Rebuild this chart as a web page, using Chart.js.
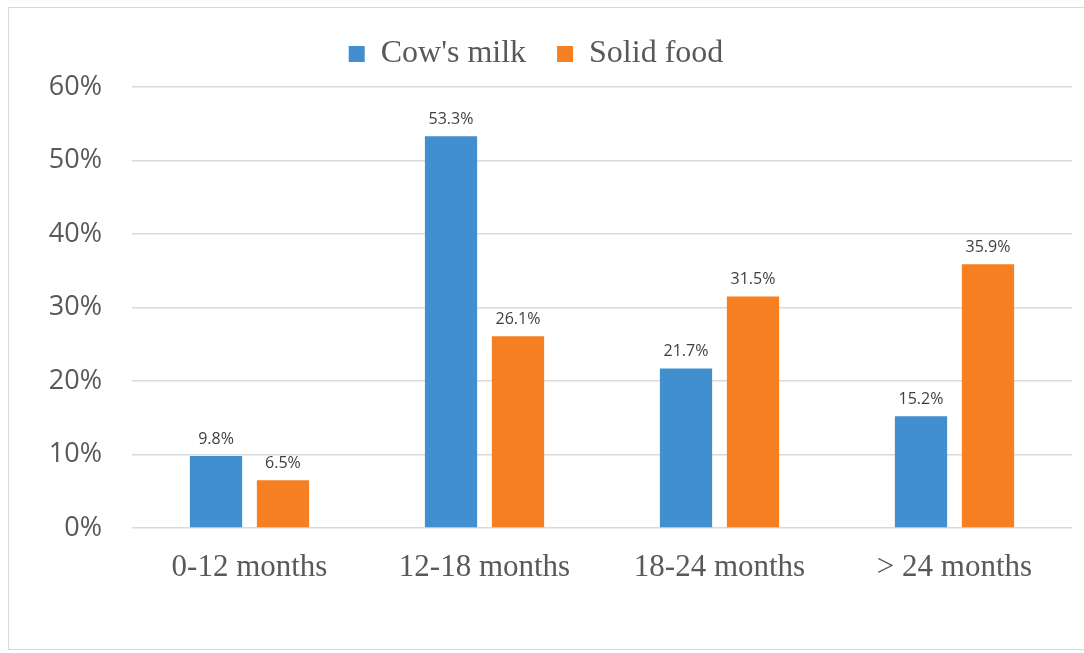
<!DOCTYPE html>
<html>
<head>
<meta charset="utf-8">
<script src="https://cdn.jsdelivr.net/npm/chart.js@4"></script>
<style>
  html, body { margin: 0; padding: 0; background: #fff; overflow: hidden; }
  #wrap { position: relative; width: 1084px; height: 653px; }
  #frame { position: absolute; left: 8px; top: 7px; width: 1100px; height: 643px; border: 1px solid #d9d9d9; box-sizing: border-box; }
  canvas { position: absolute; left: 0; top: 0; }
</style>
</head>
<body>
<div id="wrap">
  <div id="frame"></div>
  <canvas id="chart" width="1084" height="653"></canvas>
</div>
<script>
var categories = ['0-12 months', '12-18 months', '18-24 months', '> 24 months'];
var cowsMilk = [9.8, 53.3, 21.7, 15.2];
var solidFood = [6.5, 26.1, 31.5, 35.9];
var yTicks = [0, 10, 20, 30, 40, 50, 60];

var textColor = '#595959';

// draws the value above each bar
var barLabels = {
    id: 'barLabels',
    afterDatasetsDraw: function (chart) {
        var ctx = chart.ctx;
        ctx.save();
        ctx.font = '16px "Open Sans"';
        ctx.fillStyle = '#404040';
        ctx.textAlign = 'center';
        ctx.textBaseline = 'bottom';
        chart.data.datasets.forEach(function (ds, i) {
            chart.getDatasetMeta(i).data.forEach(function (bar, j) {
                ctx.fillText(ds.data[j].toFixed(1) + '%', bar.x, bar.y - 9);
            });
        });
        ctx.restore();
    }
};

// fixed legend height so the plot area starts where it should
var legendHeight = {
    id: 'legendHeight',
    beforeInit: function (chart) {
        var fit = chart.legend.fit;
        chart.legend.fit = function () {
            fit.call(this);
            this.height = 80;
        };
    }
};

var ctx = document.getElementById('chart');
var chart = new Chart(ctx, {
    type: 'bar',
    data: {
        labels: categories,
        datasets: [{
            label: "Cow's milk",
            data: cowsMilk,
            backgroundColor: '#418fcf'
        }, {
            label: 'Solid food',
            data: solidFood,
            backgroundColor: '#f57f21'
        }]
    },
    options: {
        responsive: false,
        animation: false,
        categoryPercentage: 0.57,
        barPercentage: 0.78,
        layout: { padding: { left: 0, right: 12, top: 7, bottom: 0 } },
        plugins: {
            legend: {
                position: 'top',
                labels: {
                    boxWidth: 16,
                    boxHeight: 16,
                    padding: 31,
                    color: textColor,
                    font: { family: '"Liberation Serif", serif', size: 32 }
                }
            },
            tooltip: { enabled: false }
        },
        scales: {
            x: {
                grid: { display: false },
                border: { display: false },
                ticks: {
                    color: textColor,
                    padding: 13,
                    font: { family: '"Liberation Serif", serif', size: 31 }
                },
                afterFit: function (s) { s.height = 125; }
            },
            y: {
                min: 0,
                max: 60,
                afterBuildTicks: function (s) {
                    s.ticks = yTicks.map(function (v) { return { value: v }; });
                },
                grid: { color: '#d9d9d9', drawTicks: false, lineWidth: 1.5 },
                border: { display: false },
                ticks: {
                    color: textColor,
                    padding: 30,
                    font: { family: '"Open Sans", sans-serif', size: 27 },
                    callback: function (v) { return v + '%'; }
                },
                afterFit: function (s) { s.width = 132; }
            }
        }
    },
    plugins: [barLabels, legendHeight]
});
</script>
</body>
</html>
